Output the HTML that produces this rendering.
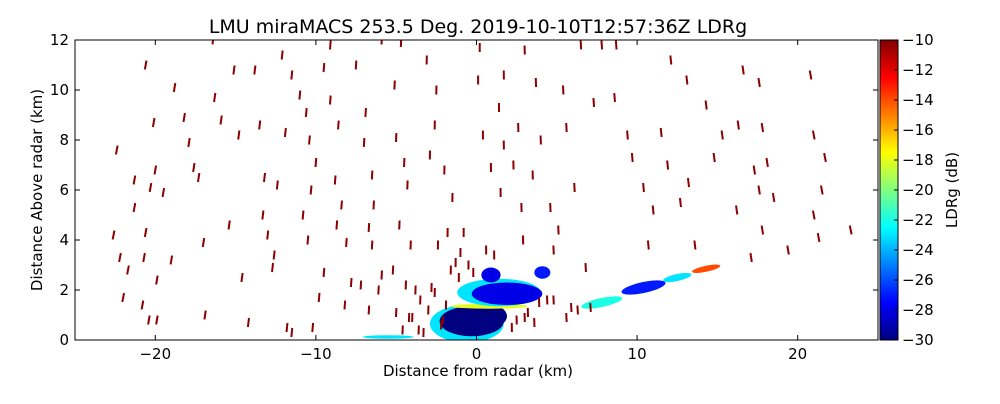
<!DOCTYPE html>
<html><head><meta charset="utf-8">
<style>
body{margin:0;background:#fff;width:1000px;height:400px;overflow:hidden;font-family:"DejaVu Sans","Liberation Sans",sans-serif;}
svg text{font-family:"DejaVu Sans","Liberation Sans",sans-serif;}
</style></head>
<body>
<svg id="chart" width="1000" height="400" xmlns="http://www.w3.org/2000/svg">
<defs>
<linearGradient id="jet" x1="0" y1="1" x2="0" y2="0">
<stop offset="0" stop-color="#000080"/><stop offset="0.125" stop-color="#0000ff"/>
<stop offset="0.375" stop-color="#00ffff"/><stop offset="0.625" stop-color="#ffff00"/>
<stop offset="0.875" stop-color="#ff0000"/><stop offset="1" stop-color="#800000"/>
</linearGradient>
<clipPath id="plotclip"><rect x="75" y="40" width="803" height="300"/></clipPath>
</defs>
<text x="478" y="33" font-size="19" text-anchor="middle">LMU miraMACS 253.5 Deg. 2019-10-10T12:57:36Z  LDRg</text>
<g id="marks" clip-path="url(#plotclip)"></g>
<rect x="75" y="40" width="803" height="300" fill="none" stroke="#000" stroke-width="1"/>
<g id="axes"></g>
<rect x="880" y="40" width="18" height="300" fill="url(#jet)" stroke="#000" stroke-width="1"/>
<g id="cbaxis"></g>
<text x="478" y="376" font-size="15" text-anchor="middle">Distance from radar (km)</text>
<text transform="translate(42,190) rotate(-90)" font-size="15" text-anchor="middle">Distance Above radar  (km)</text>
<text transform="translate(957,190) rotate(-90)" font-size="15" text-anchor="middle">LDRg (dB)</text>
</svg>
<script>
const xTicks=[-20,-10,0,10,20];
const yTicks=[0,2,4,6,8,10,12];
const cbTicks=[-10,-12,-14,-16,-18,-20,-22,-24,-26,-28,-30];
const speckX=[-22.4,-22.6,-22.2,-22,-21.3,-21.3,-21.7,-20.6,-20.1,-20,-20.3,-20.6,-20.7,-20.8,-20.4,-19.9,-19.5,-19.9,-19,-18.8,-18.2,-17.9,-17.6,-17.3,-17,-16.9,-16.4,-16.3,-15.9,-15.4,-15.1,-14.8,-14.6,-14.2,-13.8,-13.5,-13.2,-13.3,-13,-12.6,-12.7,-12.4,-12.1,-11.9,-11.5,-11,-10.6,-10.4,-10,-10.3,-10.8,-10.5,-9.5,-11.5,-10.2,-9.1,-9.5,-9.1,-8.6,-8.8,-8.4,-8.7,-8.1,-7.8,-8.2,-7.5,-6.9,-7.0,-6.5,-6.4,-6.7,-6.5,-5.9,-6.7,-5.9,-4.7,-5.1,-5.0,-4.5,-4.3,-4.8,-4.1,-3.1,-2.5,-2.6,-2.9,-2.0,-1.5,-1.8,-1,-1.1,-0.8,0.2,0.1,1.7,1.4,0.4,1.7,0.9,1.5,3.0,3.7,2.6,4.0,2.3,3.5,2.8,2.9,4.6,5.4,5.6,6.1,5.1,4.8,6.5,7.8,7.3,8.7,8.6,9.4,9.7,10.4,11.0,10.7,12.1,13.1,11.5,11.9,13.2,12.7,14.3,14.8,13.6,15.3,16.3,16.2,16.6,17.6,17.8,18.1,17.3,17.6,18.5,17.8,19.4,20.8,21.0,21.7,21.5,21.0,21.3,23.3,17.1,-3.5,-2.8,-4.2,-2.2,-1.6,-3.0,-5.2,-4.6,-3.8,2.5,3.2,3.9,4.4,5.6,6.3,7.1,-1.3,-0.5,0.6,1.1,-2.4,-6.1,-7.2,-9.8,-11.8,-3.3,-2.6,-4.0,-1.9,-3.6,-4.4,-2.1,-5.0,2.2,3.0,3.6,4.8,5.9,6.8,-0.2,-1.0];
const speckY=[7.6,4.2,3.3,1.7,6.4,5.3,2.8,11,8.7,6.8,6.1,4.3,3.3,1.4,0.8,0.8,5.9,2.4,3.2,10.1,8.9,7.9,6.9,6.5,3.9,1.0,12,9.7,8.8,4.6,10.8,8.2,2.5,0.7,10.8,8.6,6.5,5.0,4.2,3.4,2.9,6.2,11.4,8.3,10.6,9.8,9.1,8,7.1,6.0,5.0,4.0,2.7,0.3,0.5,11.8,10.9,9.6,8.6,6.4,5.4,4.6,3.9,2.3,1.4,11.0,9.1,7.9,6.6,5.4,4.5,3.8,2.6,1.2,12,11.9,10.2,8.1,7.1,6.2,4.6,3.8,11.2,10.0,8.6,7.4,6.8,5.7,4.3,3.5,2.5,4.3,11.7,10.4,10.6,9.3,8.2,7.8,6.9,5.9,11.6,10.3,8.5,8.0,7.0,6.6,5.3,4.0,5.3,10.0,8.5,6.1,4.4,3.6,11.8,11.8,9.5,11.8,9.7,8.2,7.3,6.1,5.2,3.8,11.2,10.4,8.3,7.0,6.3,5.5,9.4,7.3,3.8,8.2,8.6,5.2,10.8,10.3,8.5,7.1,6.8,6.0,5.7,4.4,3.6,10.6,8.2,7.3,6.0,5.0,4.1,4.4,3.3,1.6,2.1,0.9,0.6,2.8,1.2,2.8,0.4,2.0,0.8,1.1,1.5,1.6,0.9,1.2,1.3,3.1,3.0,3.6,3.4,3.8,2.0,2.2,1.7,0.5,0.3,1.9,0.9,1.4,0.4,2.2,0.8,1.1,0.5,0.9,0.7,1.6,1.3,2.9,2.7];
const blobX=[-0.6,-0.3,0.6,0.8,1.4,1.9,0.9,4.1,7.8,10.4,12.5,14.3,-5.5];
const blobY=[0.65,0.75,0.95,1.35,1.9,1.85,2.6,2.7,1.5,2.1,2.5,2.85,0.12];
const blobRX=[2.3,2.0,1.3,2.4,2.6,2.2,0.6,0.5,1.3,1.4,0.9,0.9,1.6];
const blobRY=[0.75,0.6,0.5,0.1,0.55,0.45,0.3,0.25,0.18,0.22,0.14,0.12,0.07];
const blobVal=[-23,-30,-30,-18,-23,-28,-28,-27,-22,-27,-23,-14,-23];
const blobRot=[0,0,0,0,0,0,0,0,-12,-12,-12,-12,0];

const NS="http://www.w3.org/2000/svg";
const X0=75,X1=878,Y0=340,Y1=40;
const sx=v=>X0+(v+25)/50*(X1-X0);
const sy=v=>Y0-v/12*(Y0-Y1);
const cy=v=>Y0-(v+30)/20*(Y0-Y1);
function jet(v){let t=Math.max(0,Math.min(1,(v+30)/20));
 const stops=[[0,[0,0,128]],[0.125,[0,0,255]],[0.375,[0,255,255]],[0.625,[255,255,0]],[0.875,[255,0,0]],[1,[128,0,0]]];
 for(let i=1;i<stops.length;i++){if(t<=stops[i][0]){const a=stops[i-1],b=stops[i],f=(t-a[0])/(b[0]-a[0]);
 return 'rgb('+a[1].map((c,k)=>Math.round(c+(b[1][k]-c)*f)).join(',')+')';}}return 'rgb(128,0,0)';}
function mk(tag,attrs,parent){const e=document.createElementNS(NS,tag);for(const k in attrs)e.setAttribute(k,attrs[k]);parent.appendChild(e);return e;}
const marks=document.getElementById('marks');
for(let i=0;i<blobX.length;i++){
 const e=mk('ellipse',{cx:sx(blobX[i]),cy:sy(blobY[i]),rx:blobRX[i]*16.06,ry:blobRY[i]*25,fill:jet(blobVal[i]),transform:'rotate('+blobRot[i]+' '+sx(blobX[i])+' '+sy(blobY[i])+')'},marks);
 
 
}
for(let i=0;i<speckX.length;i++){
 const px=sx(speckX[i]),py=sy(speckY[i]);
 const e=mk('rect',{x:px-1,y:py-4.5,width:2,height:9,fill:'#8b0000',transform:'rotate('+(-speckX[i]*0.5)+' '+px+' '+py+')'},marks);
 
 
}
const axes=document.getElementById('axes');
xTicks.forEach(t=>{const x=sx(t);
 mk('line',{x1:x,y1:Y0,x2:x,y2:Y0-5,stroke:'#000'},axes);
 mk('line',{x1:x,y1:Y1,x2:x,y2:Y1+5,stroke:'#000'},axes);
 const tx=mk('text',{x:x,y:Y0+19,'font-size':15,'text-anchor':'middle'},axes);tx.textContent=t<0?'\u2212'+(-t):t;
 
 });
yTicks.forEach(t=>{const y=sy(t);
 mk('line',{x1:X0,y1:y,x2:X0+5,y2:y,stroke:'#000'},axes);
 mk('line',{x1:X1,y1:y,x2:X1-5,y2:y,stroke:'#000'},axes);
 const tx=mk('text',{x:X0-6,y:y+5,'font-size':15,'text-anchor':'end'},axes);tx.textContent=t;
 
 });
const cb=document.getElementById('cbaxis');
cbTicks.forEach(t=>{const y=cy(t);
 mk('line',{x1:894,y1:y,x2:898,y2:y,stroke:'#000'},cb);
 const tx=mk('text',{x:902,y:y+5,'font-size':15},cb);tx.textContent='\u2212'+(-t);
 
 });
</script>
</body></html>
